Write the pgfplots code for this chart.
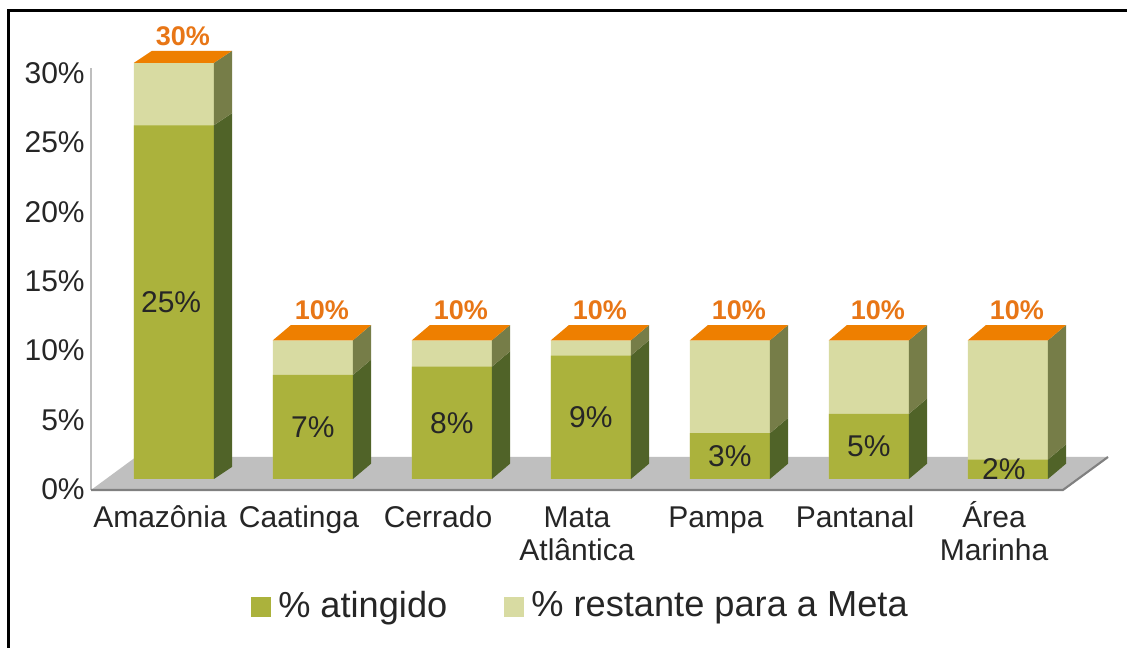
\documentclass[border=0pt]{standalone}
\usepackage{fontspec}
\setmainfont{Liberation Sans}
\usepackage{pgfplots}
\pgfplotsset{compat=1.18}
\definecolor{greenF}{RGB}{171,178,60}
\definecolor{lightF}{RGB}{216,219,162}
\definecolor{greenS}{RGB}{80,99,40}
\definecolor{lightS}{RGB}{118,125,72}
\definecolor{orangeT}{RGB}{238,127,0}
\definecolor{orangeL}{RGB}{232,118,22}
\definecolor{floorG}{RGB}{191,191,191}
\definecolor{floorE}{RGB}{128,128,128}
\definecolor{axgray}{RGB}{190,190,190}
\definecolor{txt}{RGB}{38,38,38}
\begin{document}
\begin{tikzpicture}
\useasboundingbox (0,0) rectangle (11.27cm,6.48cm);
\fill[white] (0,0) rectangle (11.27cm,6.48cm);
\draw[line width=0.03cm] (0.09cm,0) -- (0.09cm,6.37cm) -- (11.27cm,6.37cm);
\begin{axis}[
  at={(1.60cm,1.58cm)}, anchor=origin,
  x=1.39cm, y=0.1387cm,
  xmin=-0.496, xmax=6.82, ymin=0, ymax=30.4,
  clip=false,
  axis lines*=left,
  x axis line style={draw=none},
  y axis line style={draw=axgray, line width=0.6pt},
  major tick length=0pt,
  tick style={draw=none},
  xtick={0,1,2,3,4,5,6},
  xticklabels={Amazônia,Caatinga,Cerrado,{Mata\\Atlântica},Pampa,Pantanal,{\smash{Área}\\Marinha}},
  typeset ticklabels with strut,
  xticklabel style={align=center, font=\fontsize{8.54}{9.4}\selectfont, text=txt, yshift=-0.02cm},
  ytick={0,5,10,15,20,25,30},
  yticklabels={0\%,5\%,10\%,15\%,20\%,25\%,30\%},
  yticklabel style={font=\fontsize{8.54}{9.4}\selectfont, text=txt, xshift=0.06cm, yshift=-0.03cm},
  legend style={at={(axis cs:3.043,-8.44)}, anchor=center, draw=none, fill=none,
    legend columns=2, font=\fontsize{10.3}{12}\selectfont, text=txt,
    /tikz/every even column/.append style={column sep=0.5cm}},
  legend image code/.code={\fill[#1] (0cm,-0.1cm) rectangle (0.2cm,0.1cm);},
  poly/.style={draw=none, forget plot, yshift=0.11cm},
  bars/.style={ybar, bar width=0.8cm, bar shift=0pt, draw=none, forget plot, yshift=0.11cm},
]
% floor
\addplot[draw=none, fill=floorG, forget plot] coordinates {(-0.496,0) (6.496,0) (6.82,2.38) (-0.173,2.38)};
\addplot[draw=floorE, line width=0.6pt, forget plot] coordinates {(-0.496,0) (6.496,0) (6.82,2.38)};
% front faces
\addplot[bars, fill=lightF] coordinates {(0.1,30) (1.1,10) (2.1,10) (3.1,10) (4.1,10) (5.1,10) (6.1,10)};
\addplot[bars, fill=greenF] coordinates {(0.1,25.5) (1.1,7.5) (2.1,8.1) (3.1,8.9) (4.1,3.3) (5.1,4.7) (6.1,1.4)};
% side faces and tops
\addplot[poly, fill=greenS] coordinates {(0.388,0) (0.518,0.87) (0.518,26.37) (0.388,25.5)};
\addplot[poly, fill=lightS] coordinates {(0.388,25.5) (0.518,26.37) (0.518,30.87) (0.388,30)};
\addplot[poly, fill=orangeT] coordinates {(-0.188,30) (0.388,30) (0.518,30.87) (-0.058,30.87)};
\addplot[poly, fill=greenS] coordinates {(1.388,0) (1.518,1.1) (1.518,8.6) (1.388,7.5)};
\addplot[poly, fill=lightS] coordinates {(1.388,7.5) (1.518,8.6) (1.518,11.1) (1.388,10)};
\addplot[poly, fill=orangeT] coordinates {(0.812,10) (1.388,10) (1.518,11.1) (0.942,11.1)};
\addplot[poly, fill=greenS] coordinates {(2.388,0) (2.518,1.1) (2.518,9.2) (2.388,8.1)};
\addplot[poly, fill=lightS] coordinates {(2.388,8.1) (2.518,9.2) (2.518,11.1) (2.388,10)};
\addplot[poly, fill=orangeT] coordinates {(1.812,10) (2.388,10) (2.518,11.1) (1.942,11.1)};
\addplot[poly, fill=greenS] coordinates {(3.388,0) (3.518,1.1) (3.518,10.0) (3.388,8.9)};
\addplot[poly, fill=lightS] coordinates {(3.388,8.9) (3.518,10.0) (3.518,11.1) (3.388,10)};
\addplot[poly, fill=orangeT] coordinates {(2.812,10) (3.388,10) (3.518,11.1) (2.942,11.1)};
\addplot[poly, fill=greenS] coordinates {(4.388,0) (4.518,1.1) (4.518,4.4) (4.388,3.3)};
\addplot[poly, fill=lightS] coordinates {(4.388,3.3) (4.518,4.4) (4.518,11.1) (4.388,10)};
\addplot[poly, fill=orangeT] coordinates {(3.812,10) (4.388,10) (4.518,11.1) (3.942,11.1)};
\addplot[poly, fill=greenS] coordinates {(5.388,0) (5.518,1.1) (5.518,5.8) (5.388,4.7)};
\addplot[poly, fill=lightS] coordinates {(5.388,4.7) (5.518,5.8) (5.518,11.1) (5.388,10)};
\addplot[poly, fill=orangeT] coordinates {(4.812,10) (5.388,10) (5.518,11.1) (4.942,11.1)};
\addplot[poly, fill=greenS] coordinates {(6.388,0) (6.518,1.1) (6.518,2.5) (6.388,1.4)};
\addplot[poly, fill=lightS] coordinates {(6.388,1.4) (6.518,2.5) (6.518,11.1) (6.388,10)};
\addplot[poly, fill=orangeT] coordinates {(5.812,10) (6.388,10) (6.518,11.1) (5.942,11.1)};
% value labels
\addplot[draw=none, forget plot, yshift=0.11cm, nodes near coords, point meta=explicit symbolic,
  nodes near coords style={anchor=center, font=\fontsize{8.54}{9.4}\selectfont, text=txt}]
  coordinates {(0.08,12.75) [25\%] (1.1,3.75) [7\%] (2.1,4.05) [8\%] (3.1,4.45) [9\%] (4.1,1.65) [3\%] (5.1,2.35) [5\%] (6.07,0.7) [2\%]};
\addplot[draw=none, forget plot, yshift=0.11cm, nodes near coords, point meta=explicit symbolic,
  nodes near coords style={anchor=center, font=\fontsize{7.68}{9}\selectfont\bfseries, text=orangeL}]
  coordinates {(0.165,31.9) [30\%] (1.165,12.2) [10\%] (2.165,12.2) [10\%] (3.165,12.2) [10\%] (4.165,12.2) [10\%] (5.165,12.2) [10\%] (6.165,12.2) [10\%]};
% legend
\addlegendimage{fill=greenF, draw=none}
\addlegendentry{\% atingido}
\addlegendimage{fill=lightF, draw=none}
\addlegendentry{\% restante para a Meta}
\end{axis}
\end{tikzpicture}
\end{document}
